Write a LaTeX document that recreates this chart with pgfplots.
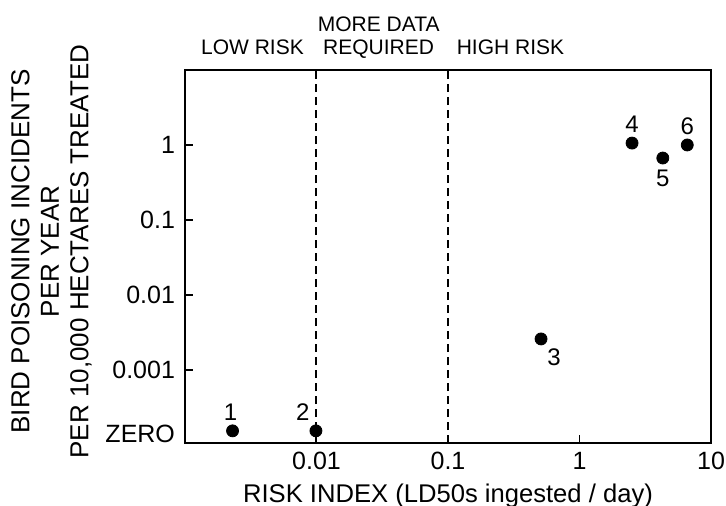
\documentclass[border=0pt]{standalone}
\usepackage{pgfplots}
\pgfplotsset{compat=1.18}
\usepackage{fontspec}
\setmainfont{Liberation Sans}
\begin{document}
\begin{tikzpicture}
\begin{axis}[
  name=ax,
  scale only axis, width=263pt, height=186.5pt,
  xmode=log, ymode=log,
  xmin=0.001, xmax=10, ymin=1.06e-4, ymax=10,
  xtick={0.01,0.1,1,10}, xticklabels={0.01,0.1,1,10},
  ytick={0.001,0.01,0.1,1}, yticklabels={0.001,0.01,0.1,1},
  extra y ticks={1.40e-4}, extra y tick labels={ZERO},
  extra y tick style={major tick length=0pt},
  xminorticks=false, yminorticks=false,
  xtick pos=bottom, ytick pos=left,
  tick align=inside, major tick length=4pt,
  axis line style={line width=1.4pt},
  tick style={line width=0.8pt, black},
  tick label style={font=\fontsize{12.5}{14}\selectfont},
  yticklabel style={xshift=-1.5pt},
  xticklabel style={yshift=-1pt},
  clip=false,
  /pgf/number format/assume math mode=true,
]
\addplot[black, line width=1pt, dash pattern=on 4pt off 2.5pt] coordinates {(0.01,1.06e-4) (0.01,10)};
\addplot[black, line width=1pt, dash pattern=on 4pt off 2.5pt] coordinates {(0.1,1.06e-4) (0.1,10)};
\addplot[only marks, mark=*, mark size=3pt, black] coordinates {
  (0.0023,1.54e-4) (0.0099,1.54e-4) (0.51,0.00259) (2.51,1.06) (4.3,0.67) (6.6,1.0)};
\def\lf{\fontsize{12}{14}\selectfont}
\node[anchor=south, font=\lf, yshift=5pt, xshift=-1pt, inner sep=0pt] at (axis cs:0.0023,1.54e-4) {1};
\node[anchor=south, font=\lf, yshift=5pt, xshift=-6.5pt, inner sep=0pt] at (axis cs:0.0099,1.54e-4) {2};
\node[font=\lf, xshift=6.5pt, yshift=-9pt, inner sep=0pt] at (axis cs:0.51,0.00259) {3};
\node[anchor=south, font=\lf, yshift=5pt, inner sep=0pt] at (axis cs:2.51,1.06) {4};
\node[anchor=north, font=\lf, yshift=-6pt, inner sep=0pt] at (axis cs:4.3,0.67) {5};
\node[anchor=south, font=\lf, yshift=5pt, inner sep=0pt] at (axis cs:6.6,1.0) {6};
\def\tf{\fontsize{10.5}{12}\selectfont}
\node[anchor=base, font=\tf, inner sep=0pt] at ([yshift=8pt]axis cs:0.00326,10) {LOW RISK};
\node[anchor=base, font=\tf, inner sep=0pt] at ([yshift=8pt]axis cs:0.0297,10) {REQUIRED};
\node[anchor=base, font=\tf, inner sep=0pt] at ([yshift=19.5pt]axis cs:0.0297,10) {MORE DATA};
\node[anchor=base, font=\tf, inner sep=0pt] at ([yshift=8pt]axis cs:0.2985,10) {HIGH RISK};
\node[anchor=base, font=\fontsize{12.8}{15}\selectfont, inner sep=0pt] at ([yshift=-29.5pt]rel axis cs:0.5,0) {RISK INDEX (LD50s ingested / day)};
\node[rotate=90, align=center, font=\fontsize{13}{14.75}\selectfont, inner sep=0pt] at ([xshift=-66.75pt, yshift=2.5pt]rel axis cs:0,0.5) {BIRD POISONING INCIDENTS\\PER YEAR\\PER 10,000 HECTARES TREATED};
\end{axis}
\pgfresetboundingbox
\path ([shift={(-92.5pt,-31pt)}]ax.south west) rectangle ([shift={(7.5pt,35pt)}]ax.north east);
\end{tikzpicture}
\end{document}
